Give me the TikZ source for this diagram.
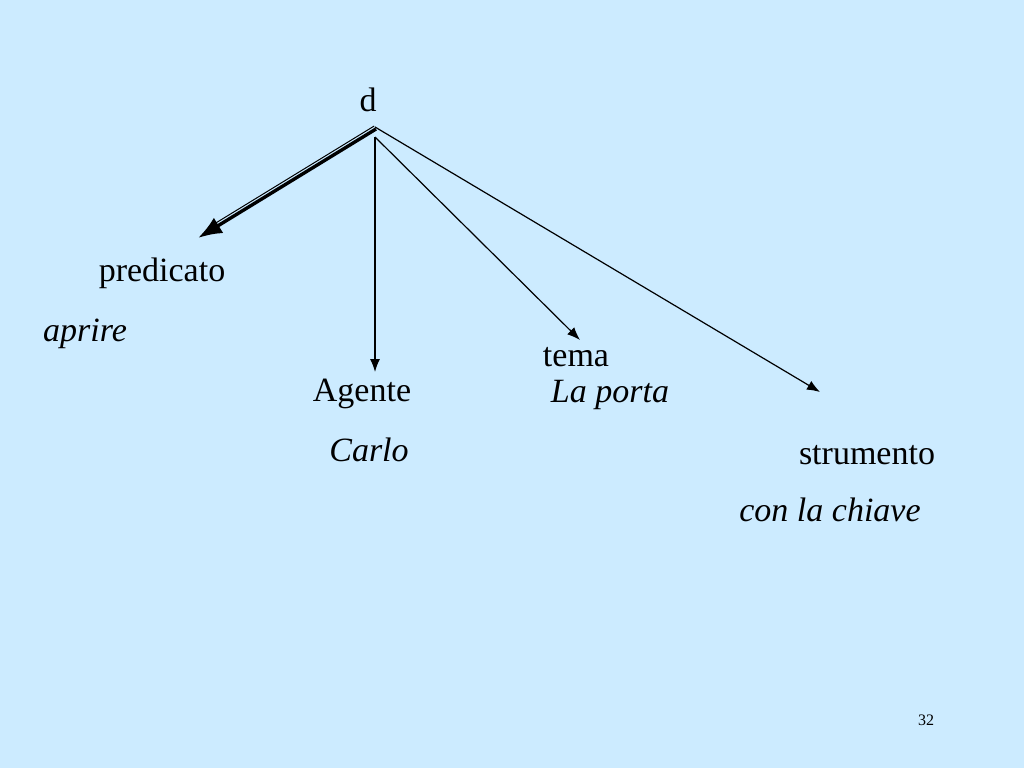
\documentclass[tikz,border=0pt]{standalone}
\usepackage{fontspec}
\setmainfont{Liberation Serif}
\usetikzlibrary{arrows.meta}
\definecolor{slidebg}{RGB}{204,235,255}

\begin{document}
\begin{tikzpicture}[x=1pt, y=-1pt,
    every node/.style={inner sep=0pt, anchor=base, font=\fontsize{34}{40}\selectfont},
    word/.style={font=\fontsize{34}{40}\selectfont\itshape},
    arr/.style={-{Latex[length=13pt,width=10pt]}, line width=1.2pt}]
    \fill[slidebg] (0,0) rectangle (1024,768);
    \useasboundingbox (0,0) rectangle (1024,768);

    % root and the tips of the arrows
    \node (d) at (368,111) {d};
    \coordinate (top) at (376,129);
    \coordinate (mid) at (375,137);
    \coordinate (pred) at (198,238);
    \coordinate (ag) at (375,372);
    \coordinate (tem) at (580,340);
    \coordinate (str) at (820,392);

    % roles and their fillers
    \node (predicato) at (162,281) {predicato};
    \node[word] (aprire) at (85,341) {aprire};
    \node (agente) at (362,401) {Agente};
    \node[word] (carlo) at (369,461) {Carlo};
    \node (tema) at (576,366) {tema};
    \node[word] (porta) at (610,402) {La porta};
    \node (strumento) at (867,464) {strumento};
    \node[word] (chiave) at (830,521) {con la chiave};
    \node[font=\fontsize{16}{18}\selectfont] (num) at (926,725) {32};

    % predicate: double arrow
    \draw[-{Latex[length=24pt,width=18pt]}, line width=3.4pt] (top) -- (pred);
    \draw[line width=1pt, shorten >=22pt] ([shift={(-1.8,-3)}]top) -- ([shift={(-1.8,-3)}]pred);

    \draw[arr] (mid) -- (ag);
    \draw[arr] (mid) -- (tem);
    \draw[arr] ([shift={(-1,-2)}]top) -- (str);
\end{tikzpicture}
\end{document}
